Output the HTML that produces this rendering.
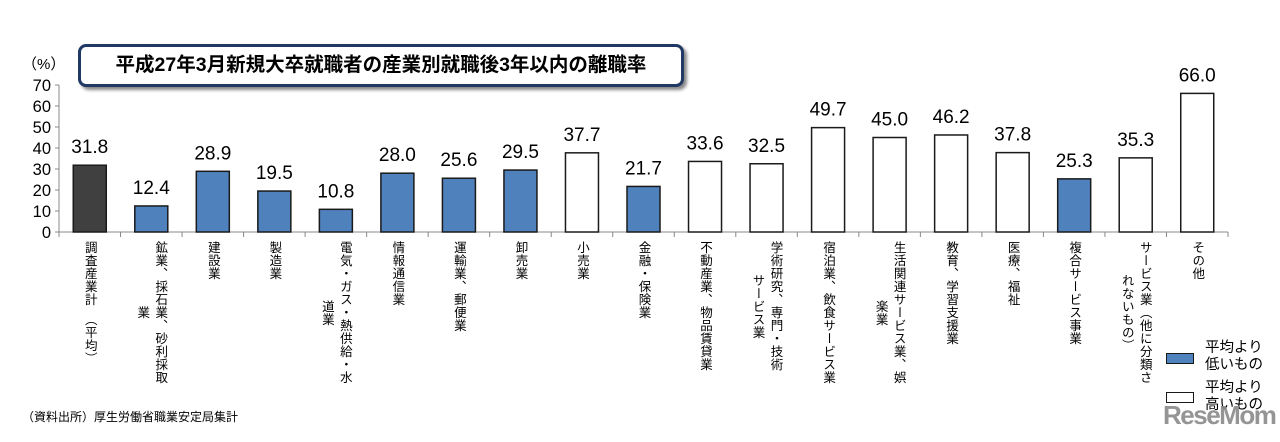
<!DOCTYPE html>
<html><head><meta charset="utf-8">
<style>
body{margin:0;background:#fff;}
#wrap{position:relative;width:1280px;height:442px;overflow:hidden;font-family:"Liberation Sans","Noto Sans CJK JP",sans-serif;}
.xl{position:absolute;top:241px;writing-mode:vertical-rl;font-size:12.5px;line-height:18px;color:#000;letter-spacing:0.5px;white-space:nowrap;text-align:center;}
</style></head>
<body>
<div id="wrap">
<svg id="svg" width="1280" height="442" style="position:absolute;left:0;top:0"></svg>
<div style="position:absolute;left:78px;top:44px;width:600px;height:37px;border:3px solid #1f3864;border-radius:8px;box-shadow:3px 3px 3px #888;background:#fff;text-align:center;font-weight:bold;font-size:19.5px;line-height:37px">平成27年3月新規大卒就職者の産業別就職後3年以内の離職率</div>
<div style="position:absolute;left:22px;top:408px;font-size:12px">（資料出所）厚生労働省職業安定局集計</div>
<div style="position:absolute;left:1166px;top:353px;width:26px;height:9px;background:#4f81bd;border:1px solid #1a1a1a"></div>
<div style="position:absolute;left:1205px;top:340px;font-size:14.5px;line-height:17px">平均より<br>低いもの</div>
<div style="position:absolute;left:1166px;top:392px;width:26px;height:9px;background:#fff;border:1px solid #1a1a1a"></div>
<div style="position:absolute;left:1205px;top:380px;font-size:14.5px;line-height:17px">平均より<br>高いもの</div>
<div style="position:absolute;left:1163px;top:400px;font-size:26px;font-weight:bold;color:#8a8a8a;letter-spacing:-1.5px;opacity:0.9">ReseMom</div>
</div>
<script>
const categories=["調査産業計　（平均）","鉱業、採石業、砂利採取\n業","建設業","製造業","電気・ガス・熱供給・水\n道業","情報通信業","運輸業、郵便業","卸売業","小売業","金融・保険業","不動産業、物品賃貸業","学術研究、専門・技術\nサービス業","宿泊業、飲食サービス業","生活関連サービス業、娯\n楽業","教育、学習支援業","医療、福祉","複合サービス事業","サービス業（他に分類さ\nれないもの）","その他"];
const values=[31.8,12.4,28.9,19.5,10.8,28.0,25.6,29.5,37.7,21.7,33.6,32.5,49.7,45.0,46.2,37.8,25.3,35.3,66.0];
const groups=["avg","low","low","low","low","low","low","low","high","low","high","high","high","high","high","high","low","high","high"];
const yTicks=[0,10,20,30,40,50,60,70];
const X0=59,X1=1228,Y0=232,Y70=85;
const n=categories.length,cw=(X1-X0)/n;
const y=v=>Y0-(v/70)*(Y0-Y70);
const xc=i=>X0+cw*(i+0.5);
const svg=document.getElementById('svg');
const NS='http://www.w3.org/2000/svg';
function mk(t,a){const e=document.createElementNS(NS,t);for(const k in a)e.setAttribute(k,a[k]);svg.appendChild(e);return e;}
let ax=mk('line',{x1:X0,y1:Y70,x2:X0,y2:Y0,stroke:'#888','stroke-width':1});


yTicks.forEach(t=>{
 let l=mk('line',{x1:X0-4,y1:y(t),x2:X0,y2:y(t),stroke:'#888'});
 
 
 let tx=mk('text',{x:X0-8,y:y(t)+6,'text-anchor':'end','font-size':16.5,'font-family':'Liberation Sans, sans-serif'});
 tx.textContent=t;
 
 
});
let u=mk('text',{x:22,y:69,'font-size':15,'font-family':'Liberation Sans, Noto Sans CJK JP, sans-serif'});
u.textContent='（%）';


let xa=mk('line',{x1:X0,y1:Y0,x2:X1,y2:Y0,stroke:'#888'});


for(let i=0;i<=n;i++){
 let l=mk('line',{x1:X0+cw*i,y1:Y0,x2:X0+cw*i,y2:Y0+5,stroke:'#888'});
 
 
}
const bw=33;
const wrap=document.getElementById('wrap');
values.forEach((v,i)=>{
 const fill=groups[i]==='avg'?'#404040':groups[i]==='low'?'#4f81bd':'#ffffff';
 let r=mk('rect',{x:xc(i)-bw/2,y:y(v),width:bw,height:Y0-y(v),fill:fill,stroke:'#1a1a1a','stroke-width':1.5});
 
 
 let t=mk('text',{x:xc(i),y:y(v)-12,'text-anchor':'middle','font-size':19,'font-family':'Liberation Sans, sans-serif'});
 t.textContent=v.toFixed(1);
 
 
 const d=document.createElement('div');
 d.className='xl';
 
 
 d.innerHTML=categories[i].replace('\n','<br>');
 wrap.appendChild(d);
 const w=d.offsetWidth;
 d.style.left=(xc(i)-w/2)+'px';
});
</script>
</body></html>
